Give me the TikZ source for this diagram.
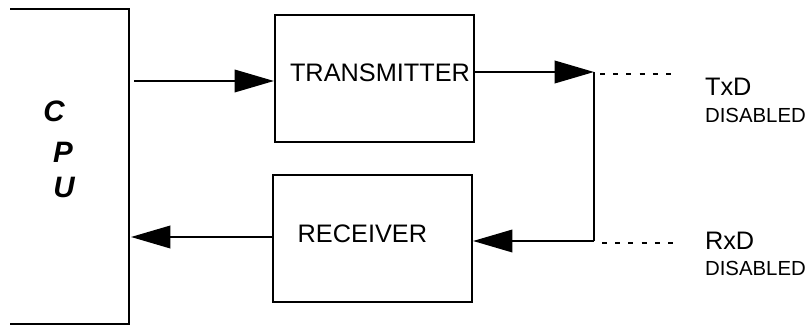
\documentclass[tikz,border=0pt]{standalone}
\usepackage{fontspec}
\setmainfont{Liberation Sans}
\usetikzlibrary{arrows.meta}

\begin{document}
\begin{tikzpicture}[>={Triangle[length=28pt,width=16pt]}, line width=1.5pt]
        \tikzset{
            blk/.style={draw, rectangle, minimum width=4.975cm, minimum height=3.175cm, inner sep=0pt},
            lbl/.style={font=\fontsize{18}{20}\selectfont, inner sep=0pt},
            sub/.style={font=\fontsize{14.5}{16}\selectfont, inner sep=0pt, anchor=west},
            cpul/.style={font=\fontsize{21}{24}\selectfont\bfseries\itshape, inner sep=0pt},
            dsh/.style={line width=1.4pt, dash pattern=on 3.5pt off 5.9pt}
        }
        \useasboundingbox (0,0) rectangle (20.225,8.175);
        %% ---- CPU ----
        \draw (0.25,7.95) -- (3.225,7.95) -- (3.225,0.075) -- (0.25,0.075);
        \node[cpul] (c) at (1.35,5.4)  {C};
        \node[cpul] (p) at (1.575,4.375) {P};
        \node[cpul] (u) at (1.6,3.5)  {U};
        %% ---- Bloques ----
        \node[blk] (tx) at (9.3625,6.2125) {};
        \node[lbl] (txt) at (9.5,6.35) {TRANSMITTER};
        \node[blk] (rx) at (9.3125,2.2125) {};
        \node[lbl] (rxt) at (9.06,2.325) {RECEIVER};
        %% ---- CPU -> transmitter ----
        \coordinate (cpuout) at (3.35,6.15);
        \draw[->] (cpuout) -- (cpuout -| tx.west);
        %% ---- transmitter -> receiver ----
        \coordinate (tjoin) at (14.85,6.375);
        \coordinate (rjoin) at (14.85,2.15);
        \draw[->] (tjoin -| tx.east) -- (tjoin);
        \draw (tjoin) -- (rjoin);
        \draw[->] (rjoin) -- (rjoin -| rx.east);
        %% ---- receiver -> CPU ----
        \coordinate (cpuin) at (3.275,2.25);
        \draw[->] (cpuin -| rx.west) -- (cpuin);
        %% ---- Salidas ----
        \coordinate (txend) at (16.8,6.325);
        \coordinate (rxend) at (16.875,2.1);
        \draw[dsh] (15.0,6.325) -- (txend);
        \draw[dsh] (15.05,2.1) -- (rxend);
        \node[lbl, anchor=west] (txd) at (17.6,6.0) {TxD};
        \node[sub] (txdis) at (17.6,5.3) {DISABLED};
        \node[lbl, anchor=west] (rxd) at (17.6,2.15) {RxD};
        \node[sub] (rxdis) at (17.6,1.475) {DISABLED};
\end{tikzpicture}
\end{document}
